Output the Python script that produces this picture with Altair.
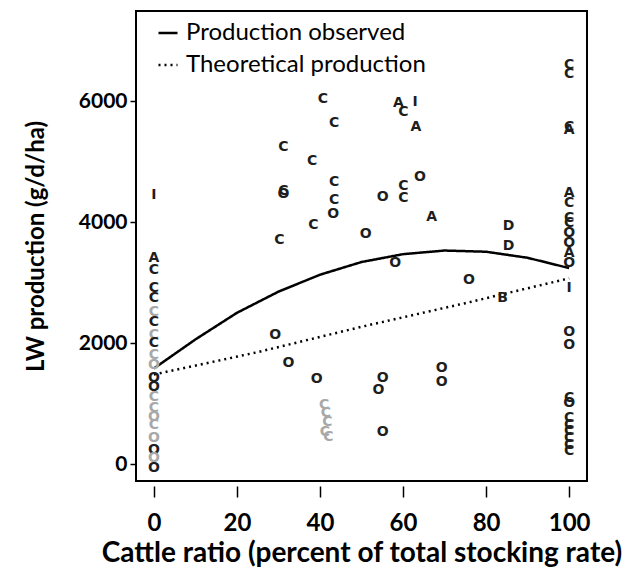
import altair as alt
import pandas as pd

# ---- scatter points (cattle ratio %, LW production g/d/ha, marker letter, shade)
pt_x = [0, 0, 0, 0, 0, 0, 0, 0, 0, 0, 0, 0, 0, 0, 0, 0, 0, 0, 0, 0, 0,
        31.2, 31.2, 31.2, 30.2, 29.2, 32.4, 39.2,
        40.7, 43.4, 38.1, 43.4, 43.4, 43.2, 38.4,
        51.0, 55.1, 60.1, 60.1, 64.1, 66.9, 58.9, 60.1, 62.9, 63.1, 58.1, 75.9,
        85.4, 85.4, 84.0,
        55.1, 54.1, 69.3, 69.3, 55.1,
        41.0, 41.4, 41.8, 41.2, 42.0,
        100, 100, 100, 100, 100, 100, 100, 100, 100, 100, 100, 100, 100, 100, 100,
        100, 100, 100, 100, 100, 100, 100, 100]
pt_y = [4450, 3400, 3210, 2910, 2750, 2510, 2350, 2130, 2000, 1800, 1640, 1420,
        1270, 1110, 930, 780, 650, 430, 230, 100, -60,
        5245, 4520, 4460, 3702, 2132, 1664, 1405,
        6028, 5631, 5008, 4666, 4364, 4132, 3950,
        3802, 4408, 4595, 4391, 4749, 4088, 5972, 5813, 5989, 5576, 3328, 3041,
        3940, 3603, 2739,
        1416, 1223, 1592, 1360, 524,
        975, 838, 700, 534, 451,
        6595, 6446, 5580, 5521, 4479, 4319, 4061, 3983, 3818, 3653, 3488, 3322,
        2909, 2187, 1967,
        1100, 1010, 760, 650, 540, 430, 320, 210]
pt_letter = ["I", "A", "C", "C", "C", "C", "C", "C", "C", "C", "O", "O",
             "O", "C", "C", "O", "C", "O", "O", "O", "O",
             "C", "C", "O", "C", "O", "O", "O",
             "C", "C", "C", "C", "C", "O", "C",
             "O", "O", "C", "C", "O", "A", "A", "C", "I", "A", "O", "O",
             "D", "D", "B",
             "O", "O", "O", "O", "O",
             "C", "C", "C", "C", "C",
             "C", "C", "C", "A", "A", "C", "C", "C", "O", "O", "A", "O",
             "I", "O", "O",
             "C", "O", "C", "C", "C", "C", "C", "C"]
pt_shade = ["black", "black", "black", "black", "black", "gray", "black", "gray",
            "black", "gray", "gray", "black", "black", "gray", "gray", "gray",
            "gray", "gray", "black", "gray", "black",
            "black", "black", "black", "black", "black", "black", "black",
            "black", "black", "black", "black", "black", "black", "black",
            "black", "black", "black", "black", "black", "black", "black", "black",
            "black", "black", "black", "black",
            "black", "black", "black",
            "black", "black", "black", "black", "black",
            "gray", "gray", "gray", "gray", "gray",
            "black", "black", "black", "black", "black", "black", "black", "black",
            "black", "black", "black", "black", "black", "black", "black",
            "black", "black", "black", "black", "black", "black", "black", "black"]

# ---- curves
obs_name = "Production observed"
theo_name = "Theoretical production"
obs_x = [0, 10, 20, 30, 40, 50, 60, 70, 80, 90, 100]
obs_y = [1580, 2060, 2500, 2850, 3130, 3340, 3470, 3530, 3510, 3410, 3240]
theo_x = [0, 25, 50, 75, 100]
theo_y = [1480, 1850, 2270, 2660, 3070]

pts_df = pd.DataFrame({"x": pt_x, "y": pt_y, "letter": pt_letter, "shade": pt_shade})
line_df = pd.concat([
    pd.DataFrame({"x": obs_x, "y": obs_y, "series": obs_name}),
    pd.DataFrame({"x": theo_x, "y": theo_y, "series": theo_name}),
])

xscale = alt.Scale(domain=[-4.3, 104.3], nice=False, zero=False)
yscale = alt.Scale(domain=[-280, 7490], nice=False, zero=False)

x_axis = alt.Axis(values=[0, 20, 40, 60, 80, 100], grid=False, domain=False,
                  offset=5, tickSize=11, tickWidth=1.5, tickColor="black",
                  labelFont="Lato", labelFontSize=24, labelFontWeight="bold",
                  labelColor="black", labelPadding=14,
                  titleFont="Lato", titleFontSize=28, titleFontWeight="bold",
                  titleColor="black", titlePadding=4)
y_axis = alt.Axis(values=[0, 2000, 4000, 6000], format="d", grid=False,
                  domain=False, tickSize=6, tickWidth=1.5, tickColor="black",
                  labelFont="Lato", labelFontSize=21, labelFontWeight="bold",
                  labelColor="black", labelPadding=3,
                  titleFont="Lato", titleFontSize=24, titleFontWeight="bold",
                  titleColor="black", titlePadding=30)

lines = alt.Chart(line_df).mark_line(strokeWidth=2.5, color="black").encode(
    x=alt.X("x:Q", scale=xscale, axis=x_axis,
            title="Cattle ratio (percent of total stocking rate)"),
    y=alt.Y("y:Q", scale=yscale, axis=y_axis, title="LW production (g/d/ha)"),
    strokeDash=alt.StrokeDash(
        "series:N",
        scale=alt.Scale(domain=[obs_name, theo_name], range=[[1, 0], [2, 4]]),
        legend=alt.Legend(title=None, orient="none", legendX=20, legendY=10,
                          symbolType="stroke", symbolSize=361,
                          symbolStrokeColor="black", symbolStrokeWidth=2.5,
                          labelFont="Lato", labelFontSize=24, labelColor="black",
                          labelLimit=0, labelOffset=6, rowPadding=8, padding=0)),
    order=alt.Order("x:Q"),
)

pts = alt.Chart(pts_df).mark_text(font="DejaVu Sans", fontSize=14,
                                  fontWeight="bold").encode(
    x=alt.X("x:Q", scale=xscale),
    y=alt.Y("y:Q", scale=yscale),
    text="letter:N",
    color=alt.Color("shade:N",
                    scale=alt.Scale(domain=["black", "gray"],
                                    range=["#1e1e1e", "#a8a8a8"]),
                    legend=None),
)

chart = alt.layer(lines, pts).properties(
    width=451, height=470,
    padding={"left": 128, "top": 3, "right": 40, "bottom": 90},
    autosize=alt.AutoSizeParams(type="none"),
    background="white",
).configure_view(stroke="black", strokeWidth=2)

chart.save("out.html", embed_options={"renderer": "svg", "actions": False})
